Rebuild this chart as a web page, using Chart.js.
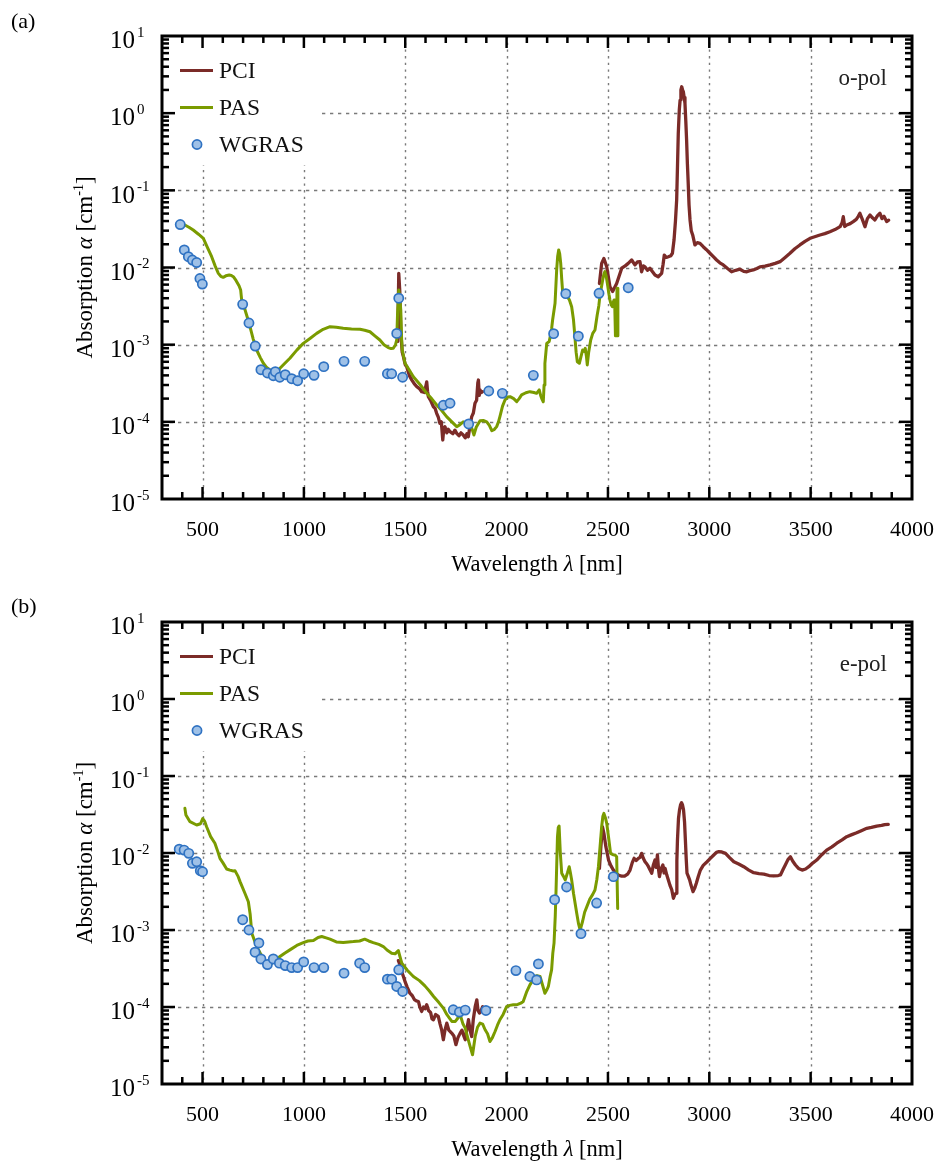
<!DOCTYPE html>
<html><head><meta charset="utf-8">
<script src="https://cdn.jsdelivr.net/npm/chart.js@4.4.1/dist/chart.umd.min.js"></script>
<style>
html,body{margin:0;padding:0;background:#fff;}
#wrap{position:relative;width:938px;height:1163px;}
.panel{position:absolute;left:0;width:938px;}
#pa{top:0;height:585px;}
#pb{top:585px;height:578px;}
</style></head><body>
<div id="wrap">
<div class="panel" id="pa"><canvas id="ca"></canvas></div>
<div class="panel" id="pb"><canvas id="cb"></canvas></div>
</div>
<script>
// ---------- tick labels ----------
const xTickValues = [500, 1000, 1500, 2000, 2500, 3000, 3500, 4000];
const xTickLabels = ['500', '1000', '1500', '2000', '2500', '3000', '3500', '4000'];
const yTickValues = [10, 1, 0.1, 0.01, 0.001, 0.0001, 0.00001];
const yTickExponents = ['1', '0', '-1', '-2', '-3', '-4', '-5'];
const seriesLabels = ['PCI', 'PAS', 'WGRAS'];
const panelLetters = ['(a)', '(b)'];
const polLabels = ['o-pol', 'e-pol'];

// ---------- panel (a) : o-pol ----------
const pciA1_x = [1463,1468,1473,1478,1485,1491,1500,1507,1520,1532,1545,1557,1570,1581,1595,1606,1610,1614,1625,1639,1647,1655,1663,1671,1678,1685,1690,1696,1705,1712,1721,1735,1745,1754,1765,1775,1786,1796,1804,1811,1820,1828,1836,1844,1852,1858,1861,1865,1869,1875,1882];
const pciA1_y = [0.0011,0.0084,0.005,0.0015,0.0008,0.0007,0.00055,0.00052,0.0004,0.00035,0.00031,0.000286,0.00027,0.000246,0.00024,0.00033,0.00025,0.000212,0.00019,0.000157,0.00015,0.000129,0.000115,0.0000957,0.0001,0.0000582,0.00008,0.0000866,0.000072,0.00008,0.0000745,0.00007,0.000078,0.000071,0.000066,0.000072,0.0000676,0.000062,0.00007,0.0000641,0.00009,0.000117,0.00013,0.000174,0.00019,0.00032,0.000348,0.00022,0.000259,0.00024,0.000246];
const pciA2_x = [2458,2469,2480,2494,2510,2523,2543,2568,2585,2600,2617,2633,2645,2658,2666,2675,2683,2695,2707,2720,2732,2748,2765,2772,2778,2788,2798,2810,2818,2826,2833,2839,2843,2847,2852,2856,2860,2864,2868,2872,2876,2880,2884,2888,2892,2896,2900,2905,2911,2918,2929,2941,2954,2970,2986,3003,3020,3036,3052,3069,3090,3110,3130,3151,3170,3185,3200,3217,3235,3250,3275,3300,3325,3349,3374,3398,3422,3447,3472,3497,3520,3546,3570,3595,3620,3645,3655,3661,3668,3678,3695,3710,3725,3735,3743,3755,3768,3780,3793,3805,3817,3830,3842,3852,3862,3875,3885];
const pciA2_y = [0.0062,0.0113,0.0131,0.0102,0.0056,0.0049,0.0062,0.0098,0.0105,0.0113,0.0125,0.0108,0.0118,0.0119,0.0088,0.0105,0.0102,0.0092,0.0098,0.0088,0.008,0.0076,0.0084,0.011,0.0145,0.0135,0.0138,0.0142,0.0153,0.0227,0.04,0.075,0.2,0.548,1.1,1.48,2.0,2.2,2.0,1.9,1.6,1.34,0.8,0.449,0.22,0.123,0.065,0.0413,0.03,0.0264,0.0196,0.021,0.0206,0.0186,0.017,0.0153,0.0138,0.0125,0.0115,0.0108,0.0097,0.0088,0.0092,0.0095,0.0089,0.0088,0.0091,0.0093,0.0097,0.0102,0.0104,0.0108,0.0113,0.0119,0.0135,0.0153,0.0175,0.0196,0.0218,0.0239,0.025,0.0264,0.0275,0.0291,0.031,0.0338,0.038,0.0455,0.034,0.0356,0.037,0.0393,0.042,0.046,0.0504,0.042,0.0338,0.043,0.0479,0.044,0.0413,0.047,0.0504,0.043,0.046,0.0393,0.041];
const pasA_x = [400,413,435,454,480,504,525,545,562,578,590,602,615,632,642,652,665,680,688,693,705,720,734,750,767,785,800,815,833,848,862,872,882,905,931,965,997,1030,1063,1095,1129,1160,1194,1235,1277,1300,1326,1350,1375,1395,1416,1430,1441,1452,1458,1462,1468,1473,1478,1482,1485,1499,1520,1540,1575,1606,1630,1655,1680,1704,1730,1754,1770,1786,1805,1819,1830,1839,1850,1869,1885,1902,1915,1927,1940,1951,1960,1967,1980,1992,2005,2017,2035,2050,2062,2074,2095,2115,2135,2148,2161,2168,2173,2181,2185,2189,2198,2210,2217,2222,2227,2239,2247,2252,2257,2262,2267,2272,2277,2290,2300,2310,2321,2330,2337,2343,2349,2359,2367,2375,2382,2388,2394,2398,2405,2415,2425,2436,2447,2455,2461,2474,2480,2485,2491,2497,2505,2510,2516,2522,2527,2530,2533,2537,2541,2545,2549];
const pasA_y = [0.036,0.0356,0.033,0.0306,0.027,0.0239,0.018,0.0138,0.0105,0.0084,0.0077,0.00746,0.0078,0.008,0.0079,0.0076,0.0068,0.0058,0.00512,0.0038,0.0031,0.0023,0.00171,0.00118,0.000853,0.00068,0.000574,0.00051,0.00047,0.00044,0.000425,0.00045,0.000494,0.00057,0.000666,0.00085,0.00104,0.0012,0.0014,0.00158,0.00171,0.00168,0.00163,0.0016,0.00158,0.00154,0.00147,0.0013,0.00115,0.001,0.000915,0.00089,0.000897,0.001,0.00115,0.0025,0.00512,0.004,0.00281,0.0012,0.000853,0.000574,0.00047,0.000385,0.0003,0.000234,0.0002,0.000165,0.00014,0.000117,0.0001,0.0000866,0.000092,0.0001,0.000097,0.0000957,0.00008,0.0000676,0.000085,0.000103,0.000104,0.0001,0.00009,0.0000767,0.00008,0.0000866,0.0001,0.000117,0.00016,0.000192,0.00021,0.000212,0.0002,0.000183,0.0002,0.000223,0.000238,0.000246,0.00024,0.000234,0.000259,0.00022,0.000202,0.000182,0.0003,0.000574,0.00104,0.0011,0.00133,0.0016,0.00209,0.00344,0.00929,0.014,0.0169,0.015,0.0113,0.007,0.00463,0.0042,0.00419,0.0038,0.0031,0.0021,0.00127,0.0008,0.000601,0.000574,0.0007,0.000853,0.00082,0.000897,0.0007,0.000546,0.0008,0.00115,0.0014,0.00155,0.00243,0.0032,0.00441,0.00689,0.0082,0.00883,0.0078,0.00623,0.0045,0.00379,0.0033,0.0031,0.0036,0.00379,0.0038,0.0013,0.0013,0.0054,0.0013];
const wgrasA_x = [390,410,430,450,471,487,499,698,729,760,788,820,849,859,881,908,940,969,999,1050,1098,1198,1300,1412,1433,1458,1468,1487,1688,1721,1813,1912,1979,2132,2232,2292,2354,2456,2600];
const wgrasA_y = [0.036,0.0169,0.0138,0.0125,0.0116,0.0072,0.0061,0.00333,0.00191,0.00096,0.000474,0.00043,0.000396,0.000447,0.000378,0.000408,0.000362,0.000341,0.00042,0.0004,0.000519,0.000608,0.000608,0.00042,0.00042,0.0014,0.004,0.000378,0.000164,0.000174,0.0000938,0.000251,0.000234,0.0004,0.00139,0.00458,0.00129,0.00463,0.00547];

// ---------- panel (b) : e-pol ----------
const pciB1_x = [1466,1471,1480,1491,1500,1510,1523,1535,1545,1555,1565,1572,1581,1590,1598,1606,1615,1625,1632,1639,1650,1663,1672,1680,1688,1696,1705,1715,1729,1740,1750,1760,1771,1780,1789,1796,1803,1812,1820,1828,1836,1845,1853,1859,1866,1874,1882];
const pciB1_y = [0.0004,0.00037,0.0003,0.000249,0.00021,0.00018,0.000151,0.00014,0.000125,0.00012,0.000118,0.0001,0.0000875,0.0001,0.000095,0.000107,0.00009,0.000085,0.00007,0.0000683,0.00008,0.0000754,0.00006,0.00005,0.0000376,0.00005,0.0000618,0.00005,0.0000458,0.000042,0.0000324,0.00004,0.0000458,0.00005,0.000042,0.0000376,0.00005,0.0000683,0.00005,0.0000414,0.00007,0.000101,0.000124,0.00009,0.0000834,0.00009,0.000101];
const pciB2_x = [2458,2465,2473,2480,2490,2503,2515,2527,2540,2551,2568,2584,2597,2609,2620,2629,2640,2650,2658,2666,2675,2683,2692,2700,2708,2716,2724,2732,2738,2744,2750,2754,2762,2771,2777,2782,2790,2798,2806,2815,2823,2830,2836,2840,2843,2848,2853,2858,2863,2868,2873,2878,2882,2886,2890,2896,2903,2910,2920,2928,2936,2946,2956,2970,2989,3005,3022,3035,3047,3062,3080,3100,3121,3145,3170,3195,3219,3245,3269,3295,3318,3340,3351,3365,3375,3388,3400,3412,3425,3440,3458,3475,3491,3510,3530,3555,3579,3605,3629,3655,3678,3700,3727,3750,3777,3800,3826,3850,3865,3883];
const pciB2_y = [0.0063,0.012,0.0219,0.018,0.012,0.0081,0.0068,0.006,0.0054,0.00519,0.005,0.00503,0.0053,0.006,0.0075,0.00853,0.008,0.00853,0.0088,0.0099,0.0085,0.0077,0.0072,0.00664,0.006,0.00546,0.007,0.0081,0.0065,0.00942,0.006,0.00493,0.0062,0.00698,0.0055,0.00632,0.0052,0.00447,0.0038,0.00331,0.00258,0.0029,0.003,0.008,0.0148,0.028,0.0361,0.042,0.0449,0.042,0.0361,0.025,0.0148,0.0085,0.00546,0.005,0.00447,0.0038,0.00315,0.0035,0.00404,0.005,0.006,0.0069,0.0077,0.0085,0.00942,0.0102,0.0104,0.0103,0.0099,0.0087,0.0077,0.0072,0.00664,0.006,0.00555,0.0054,0.00533,0.0051,0.00503,0.0051,0.00519,0.0062,0.00698,0.0082,0.00895,0.0078,0.00698,0.0063,0.006,0.0062,0.00664,0.0074,0.0081,0.0095,0.0109,0.012,0.0134,0.0148,0.0163,0.0172,0.0183,0.0195,0.0209,0.0215,0.0224,0.0228,0.0234,0.0236];
const pasB_x = [413,418,438,471,490,501,510,520,540,561,575,586,600,619,635,652,660,676,685,709,726,735,743,767,785,800,815,833,855,882,905,931,965,997,1020,1047,1070,1088,1110,1129,1160,1194,1220,1244,1275,1300,1320,1342,1370,1392,1410,1433,1450,1466,1474,1483,1510,1540,1570,1597,1620,1640,1665,1688,1705,1718,1730,1747,1760,1771,1785,1796,1808,1820,1832,1845,1857,1869,1882,1894,1906,1918,1930,1943,1955,1967,1983,2000,2015,2033,2055,2070,2082,2100,2115,2128,2140,2150,2165,2178,2189,2200,2206,2215,2222,2228,2234,2240,2244,2251,2255,2259,2265,2272,2280,2289,2300,2309,2315,2321,2330,2346,2355,2363,2375,2385,2396,2410,2425,2436,2445,2453,2461,2469,2475,2480,2487,2494,2503,2513,2525,2535,2543,2548];
const pasB_y = [0.038,0.0311,0.0255,0.0231,0.024,0.028,0.026,0.0219,0.0163,0.0134,0.0105,0.00853,0.0075,0.0062,0.006,0.00585,0.0059,0.00493,0.00425,0.003,0.00233,0.0016,0.000908,0.00061,0.0005,0.00043,0.00038,0.000352,0.0004,0.000452,0.0005,0.000552,0.00063,0.000687,0.00072,0.00073,0.0008,0.000822,0.00079,0.00076,0.0007,0.000687,0.0007,0.000707,0.00072,0.00076,0.00072,0.000687,0.00065,0.00061,0.00055,0.0005,0.00049,0.000541,0.00045,0.000371,0.0003,0.000249,0.00022,0.000188,0.00016,0.000137,0.000115,0.0000968,0.00008,0.0000718,0.000065,0.0000649,0.000072,0.0000793,0.00006,0.0000532,0.00004,0.0000308,0.000024,0.0000414,0.000055,0.0000618,0.00006,0.0000506,0.000045,0.0000357,0.00004,0.0000481,0.000058,0.0000683,0.00008,0.000101,0.000105,0.000107,0.000108,0.000112,0.000118,0.00016,0.000194,0.00022,0.000249,0.000255,0.000249,0.00019,0.000151,0.00017,0.000185,0.00025,0.000304,0.0005,0.000674,0.0015,0.00331,0.0163,0.0215,0.0224,0.01,0.00546,0.005,0.00447,0.0055,0.00664,0.0055,0.00447,0.003,0.00165,0.0012,0.001,0.0013,0.0017,0.00201,0.0025,0.0029,0.00331,0.0045,0.00664,0.012,0.0219,0.03,0.0327,0.029,0.0243,0.016,0.0099,0.0095,0.00942,0.00895,0.0019];
const wgrasB_x = [385,409,432,450,471,489,500,698,729,759,778,788,820,849,879,908,940,969,999,1050,1098,1198,1275,1300,1412,1433,1458,1468,1487,1737,1767,1796,1898,2046,2115,2148,2157,2237,2296,2367,2444,2527];
const wgrasB_y = [0.0112,0.0109,0.0099,0.00735,0.0077,0.00589,0.00571,0.00136,0.001,0.000515,0.00068,0.000421,0.000356,0.000421,0.000371,0.000345,0.000325,0.000325,0.000385,0.000325,0.000325,0.000275,0.000371,0.000325,0.00023,0.00023,0.000185,0.000304,0.000159,0.000092,0.0000859,0.0000912,0.0000902,0.000297,0.000249,0.000225,0.000363,0.00248,0.00362,0.000897,0.00224,0.00493];

// ---------- styling ----------
const COL_PCI = '#7b2b28';
const COL_PAS = '#7a9b00';
const COL_WG_FILL = '#9fc1e7';
const COL_WG_EDGE = '#2f72c2';
const FONT = "'Liberation Serif','Times New Roman',Times,serif";

function pts(xs, ys) { return xs.map((x, i) => ({ x: x, y: ys[i] })); }
function joinSegments(a, b) { return a.concat([{ x: (a[a.length - 1].x + b[0].x) / 2, y: null }], b); }

function drawMixed(ctx, parts, x, y, align) {
  let total = 0;
  parts.forEach(p => { ctx.font = p.font; p.w = ctx.measureText(p.t).width; total += p.w; });
  let cx = align === 'center' ? x - total / 2 : x;
  ctx.textAlign = 'left';
  parts.forEach(p => { ctx.font = p.font; ctx.fillText(p.t, cx, y + (p.dy || 0)); cx += p.w; });
}

const decor = {
  id: 'panelDecor',
  beforeDatasetsDraw(chart, args, o) {
    const { ctx, chartArea: ca, scales: { x, y } } = chart;
    ctx.save();
    ctx.strokeStyle = '#7a7a7a';
    ctx.lineWidth = 1.4;
    ctx.setLineDash([2.3, 4.4]);
    xTickValues.forEach(v => {
      if (v <= x.min || v >= x.max) return;
      const px = Math.round(x.getPixelForValue(v)) + 0.5;
      ctx.beginPath(); ctx.moveTo(px, ca.top); ctx.lineTo(px, ca.bottom); ctx.stroke();
    });
    ctx.setLineDash([3.3, 4.7]);
    yTickValues.forEach(v => {
      if (v <= y.min * 1.0001 || v >= y.max * 0.9999) return;
      const py = Math.round(y.getPixelForValue(v)) + 0.5;
      ctx.beginPath(); ctx.moveTo(ca.left, py); ctx.lineTo(ca.right, py); ctx.stroke();
    });
    ctx.setLineDash([]);
    ctx.fillStyle = '#ffffff';
    ctx.fillRect(ca.left, ca.top, o.legendW, o.legendH);
    ctx.restore();
  },
  afterDatasetsDraw(chart, args, o) {
    const { ctx, chartArea: ca, scales: { x, y } } = chart;
    ctx.save();
    ctx.strokeStyle = '#000'; ctx.fillStyle = '#000';
    ctx.lineWidth = 2.5;
    ctx.lineCap = 'butt';
    const tick = (x1, y1, x2, y2) => { ctx.beginPath(); ctx.moveTo(x1, y1); ctx.lineTo(x2, y2); ctx.stroke(); };
    for (let v = x.min + 100; v < x.max; v += 100) {
      const major = xTickValues.indexOf(v) >= 0;
      const L = major ? 12 : 7;
      const px = x.getPixelForValue(v);
      tick(px, ca.bottom, px, ca.bottom - L);
      tick(px, ca.top, px, ca.top + L);
    }
    for (let e = -5; e <= 0; e++) {
      for (let k = 1; k <= 9; k++) {
        if (e === -5 && k === 1) continue;
        const v = k * Math.pow(10, e);
        const L = k === 1 ? 13 : 7;
        const py = y.getPixelForValue(v);
        tick(ca.left, py, ca.left + L, py);
        tick(ca.right, py, ca.right - L, py);
      }
    }
    ctx.lineWidth = 3;
    ctx.strokeRect(ca.left, ca.top, ca.right - ca.left, ca.bottom - ca.top);

    // legend
    const ds = chart.data.datasets;
    ds.forEach((d, i) => {
      const cy = ca.top + o.legendRow0 + i * o.legendStep;
      if (d.showLine) {
        ctx.strokeStyle = d.borderColor; ctx.lineWidth = 3.2;
        tick(ca.left + 18, cy, ca.left + 51, cy);
      } else {
        ctx.beginPath(); ctx.arc(ca.left + 35, cy, d.pointRadius, 0, Math.PI * 2);
        ctx.fillStyle = d.pointBackgroundColor; ctx.fill();
        ctx.lineWidth = d.pointBorderWidth; ctx.strokeStyle = d.pointBorderColor; ctx.stroke();
      }
      ctx.fillStyle = '#111';
      ctx.font = '23.5px ' + FONT; ctx.textAlign = 'left'; ctx.textBaseline = 'alphabetic';
      ctx.fillText(d.label, ca.left + 57, cy + 7.3);
    });

    ctx.fillStyle = '#222';
    ctx.font = '23px ' + FONT; ctx.textAlign = 'right';
    ctx.fillText(o.pol, ca.right - 25, ca.top + 49);

    ctx.fillStyle = '#000';
    yTickValues.forEach((v, i) => {
      const py = y.getPixelForValue(v);
      ctx.font = '25px ' + FONT; ctx.textAlign = 'right';
      ctx.fillText('10', ca.left - 27, py + 12.3);
      ctx.font = '15px ' + FONT; ctx.textAlign = 'left';
      ctx.fillText(yTickExponents[i], ca.left - 25, py + 0.8);
    });
    ctx.font = '22px ' + FONT; ctx.textAlign = 'center';
    xTickValues.forEach((v, i) => {
      ctx.fillText(xTickLabels[i], x.getPixelForValue(v), ca.bottom + 37);
    });
    const tf = '22.5px ' + FONT, ti = 'italic 22.5px ' + FONT;
    drawMixed(ctx, [{ t: 'Wavelength ', font: tf }, { t: 'λ', font: ti }, { t: ' [nm]', font: tf }],
      (ca.left + ca.right) / 2, ca.bottom + 71.5, 'center');
    ctx.save();
    ctx.translate(92, (ca.top + ca.bottom) / 2);
    ctx.rotate(-Math.PI / 2);
    const yf = '23px ' + FONT, yi = 'italic 23px ' + FONT, ys = '14px ' + FONT;
    drawMixed(ctx, [{ t: 'Absorption ', font: yf }, { t: 'α', font: yi }, { t: ' [cm', font: yf },
      { t: '-1', font: ys, dy: -9 }, { t: ']', font: yf }], 0, 0, 'center');
    ctx.restore();
    ctx.font = '22px ' + FONT; ctx.textAlign = 'left'; ctx.fillStyle = '#000';
    ctx.fillText(o.letter, 11, 27.5);
    ctx.restore();
  }
};

function makeChart(canvasId, idx, pciData, pasData, wgData, xAxisH, padTop) {
  return new Chart(document.getElementById(canvasId), {
    type: 'scatter',
    data: {
      datasets: [
        { label: seriesLabels[0], data: pciData, showLine: true, borderColor: COL_PCI, backgroundColor: COL_PCI,
          borderWidth: 3.3, pointRadius: 0, tension: 0, spanGaps: false, order: 3,
          borderJoinStyle: 'round', borderCapStyle: 'round' },
        { label: seriesLabels[1], data: pasData, showLine: true, borderColor: COL_PAS, backgroundColor: COL_PAS,
          borderWidth: 3.0, pointRadius: 0, tension: 0, order: 2,
          borderJoinStyle: 'round', borderCapStyle: 'round' },
        { label: seriesLabels[2], data: wgData, showLine: false, pointRadius: 4.6, pointBorderWidth: 1.7,
          pointBackgroundColor: COL_WG_FILL, pointBorderColor: COL_WG_EDGE,
          backgroundColor: COL_WG_FILL, borderColor: COL_WG_EDGE, order: 1 }
      ]
    },
    options: {
      responsive: true, maintainAspectRatio: false, animation: false, events: [],
      layout: { padding: { left: 0, top: padTop, right: 26, bottom: 0 } },
      plugins: {
        legend: { display: false }, tooltip: { enabled: false },
        panelDecor: { letter: panelLetters[idx], pol: polLabels[idx], legendW: 160, legendH: 129,
          legendRow0: 34.5, legendStep: 37 }
      },
      scales: {
        x: { type: 'linear', min: 300, max: 4000, grid: { display: false }, border: { display: false },
          ticks: { display: false }, afterFit(s) { s.height = xAxisH; } },
        y: { type: 'logarithmic', min: 0.00001, max: 10, grid: { display: false }, border: { display: false },
          ticks: { display: false }, afterFit(s) { s.width = 162; } }
      }
    },
    plugins: [decor]
  });
}

makeChart('ca', 0, joinSegments(pts(pciA1_x, pciA1_y), pts(pciA2_x, pciA2_y)), pts(pasA_x, pasA_y), pts(wgrasA_x, wgrasA_y), 86, 36);
makeChart('cb', 1, joinSegments(pts(pciB1_x, pciB1_y), pts(pciB2_x, pciB2_y)), pts(pasB_x, pasB_y), pts(wgrasB_x, wgrasB_y), 79, 37);
</script>
</body></html>
